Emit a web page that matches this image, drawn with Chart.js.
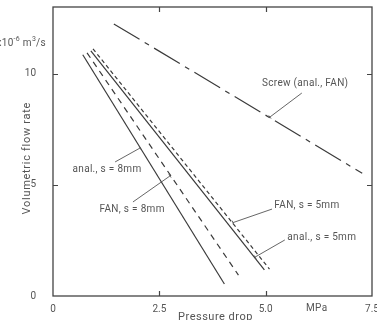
<!DOCTYPE html>
<html>
<head>
<meta charset="utf-8">
<script src="https://cdn.jsdelivr.net/npm/chart.js@4/dist/chart.umd.min.js"></script>
<style>
html,body{margin:0;padding:0;background:#fff;}
#wrap{width:377px;height:320px;position:relative;}
</style>
</head>
<body>
<div id="wrap"><canvas id="c" width="377" height="320"></canvas></div>
<script>
// ---- data ----
const xTickValues = [0, 2.5, 5.0, 7.5];
const yTickValues = [0, 5, 10];
const screwPressure = [1.43, 7.27];
const screwFlow = [12.24, 5.52];
const anal8Pressure = [0.70, 4.03];
const anal8Flow = [10.85, 0.54];
const fan8Pressure = [0.80, 4.36];
const fan8Flow = [10.94, 0.94];
const anal5Pressure = [0.89, 4.97];
const anal5Flow = [11.03, 1.17];
const fan5Pressure = [0.94, 5.09];
const fan5Flow = [11.12, 1.21];

// annotation labels and leader lines (data units)
const labelTexts = ["Screw (anal., FAN)", "anal., s = 8mm", "FAN, s = 8mm", "FAN, s = 5mm", "anal., s = 5mm"];
const labelX = [5.93, 1.27, 1.86, 5.97, 6.32];
const labelY = [9.58, 5.67, 3.91, 4.09, 2.61];
const leaderX1 = [5.85, 1.46, 1.88, 5.15, 5.45];
const leaderY1 = [9.13, 6.03, 4.23, 3.91, 2.52];
const leaderX2 = [5.10, 2.05, 2.75, 4.23, 4.75];
const leaderY2 = [8.05, 6.66, 5.40, 3.30, 1.75];

const pts = (xs, ys) => xs.map((x, i) => ({x: x, y: ys[i]}));
const FONT = 'Roboto, "DejaVu Sans", sans-serif';
const TXT = '#555';
const LINE = '#3a3a3a';

const overlay = {
  id: 'overlay',
  afterDatasetsDraw(chart) {
    const ctx = chart.ctx, a = chart.chartArea;
    const xs = chart.scales.x, ys = chart.scales.y;
    ctx.save();
    // frame
    ctx.strokeStyle = '#444';
    ctx.lineWidth = 1.3;
    ctx.strokeRect(a.left, a.top, a.right - a.left, a.bottom - a.top);
    // inward ticks
    ctx.lineWidth = 1.2;
    ctx.beginPath();
    xTickValues.slice(1, -1).forEach(v => {
      const px = Math.round(xs.getPixelForValue(v)) + 0.5;
      ctx.moveTo(px, a.bottom); ctx.lineTo(px, a.bottom - 5);
      ctx.moveTo(px, a.top); ctx.lineTo(px, a.top + 5);
    });
    yTickValues.slice(1).forEach(v => {
      const py = Math.round(ys.getPixelForValue(v)) + 0.5;
      ctx.moveTo(a.left, py); ctx.lineTo(a.left + 5, py);
      ctx.moveTo(a.right, py); ctx.lineTo(a.right - 5, py);
    });
    ctx.stroke();

    ctx.fillStyle = TXT;
    ctx.font = '10px ' + FONT;
    ctx.textBaseline = 'middle';
    ctx.letterSpacing = '0.3px';
    // annotation labels and leaders
    ctx.strokeStyle = '#555';
    ctx.lineWidth = 0.9;
    labelTexts.forEach((t, i) => {
      ctx.textAlign = 'center';
      ctx.fillText(t, xs.getPixelForValue(labelX[i]), ys.getPixelForValue(labelY[i]));
      const x1 = xs.getPixelForValue(leaderX1[i]), y1 = ys.getPixelForValue(leaderY1[i]);
      const x2 = xs.getPixelForValue(leaderX2[i]), y2 = ys.getPixelForValue(leaderY2[i]);
      ctx.beginPath();
      ctx.moveTo(x1, y1);
      ctx.lineTo(x2, y2);
      // small serif where the leader meets the curve
      const L = Math.hypot(x2 - x1, y2 - y1), nx = -(y2 - y1) / L * 2, ny = (x2 - x1) / L * 2;
      ctx.moveTo(x2 - nx, y2 - ny);
      ctx.lineTo(x2 + nx, y2 + ny);
      ctx.stroke();
    });
    // MPa unit
    ctx.textAlign = 'center';
    ctx.fillText('MPa', xs.getPixelForValue(6.2), a.bottom + 12);
    // x title
    ctx.font = '11px ' + FONT;
    ctx.letterSpacing = '0.5px';
    ctx.fillText('Pressure drop', (a.left + a.right) / 2 + 3, a.bottom + 21);
    // y title
    ctx.save();
    ctx.translate(27, ys.getPixelForValue(6.2));
    ctx.rotate(-Math.PI / 2);
    ctx.letterSpacing = '0.7px';
    ctx.fillText('Volumetric flow rate', 0, 0);
    ctx.restore();
    // y unit with superscripts, right aligned
    ctx.letterSpacing = '0.3px';
    const parts = [['x10', 0, 10], ['-6', -4, 7], [' m', 0, 10], ['3', -4, 7], ['/s', 0, 10]];
    let w = 0;
    parts.forEach(p => { ctx.font = p[2] + 'px ' + FONT; w += ctx.measureText(p[0]).width; });
    let cx = a.left - 7 - w;
    const cy = ys.getPixelForValue(11.35);
    ctx.textAlign = 'left';
    parts.forEach(p => {
      ctx.font = p[2] + 'px ' + FONT;
      ctx.fillText(p[0], cx, cy + p[1]);
      cx += ctx.measureText(p[0]).width;
    });
    ctx.restore();
  }
};

const ds = (label, xs, ys, dash) => ({
  label: label, data: pts(xs, ys), showLine: true, pointRadius: 0,
  borderColor: LINE, borderWidth: 1.2, borderDash: dash, fill: false, tension: 0
});

const noPad = s => { s.paddingTop = 0; s.paddingBottom = 0; s.paddingLeft = 0; s.paddingRight = 0; };

new Chart(document.getElementById('c'), {
  type: 'scatter',
  data: {
    datasets: [
      ds('Screw (anal., FAN)', screwPressure, screwFlow, [30, 6, 5, 6]),
      ds('anal., s = 8mm', anal8Pressure, anal8Flow, []),
      ds('FAN, s = 8mm', fan8Pressure, fan8Flow, [6, 5]),
      ds('anal., s = 5mm', anal5Pressure, anal5Flow, []),
      ds('FAN, s = 5mm', fan5Pressure, fan5Flow, [4, 3])
    ]
  },
  options: {
    responsive: false,
    animation: false,
    layout: { autoPadding: false, padding: { top: 7, right: 5, left: 0, bottom: 0 } },
    plugins: { legend: { display: false }, tooltip: { enabled: false } },
    scales: {
      x: {
        type: 'linear', min: 0, max: 7.5,
        afterBuildTicks: s => { s.ticks = xTickValues.map(v => ({value: v})); },
        afterFit: s => { s.height = 24; noPad(s); },
        grid: { display: false }, border: { display: false },
        ticks: {
          autoSkip: false, maxRotation: 0, padding: -1, color: TXT,
          font: { family: FONT, size: 10 },
          callback: v => v === 0 ? '0' : v.toFixed(1)
        }
      },
      y: {
        type: 'linear', min: 0, max: 13,
        afterBuildTicks: s => { s.ticks = yTickValues.map(v => ({value: v})); },
        afterFit: s => { s.width = 53; noPad(s); },
        grid: { display: false }, border: { display: false },
        ticks: {
          autoSkip: false, padding: 9, color: TXT,
          font: { family: FONT, size: 10 },
          callback: v => String(v)
        }
      }
    }
  },
  plugins: [overlay]
});
</script>
</body>
</html>
